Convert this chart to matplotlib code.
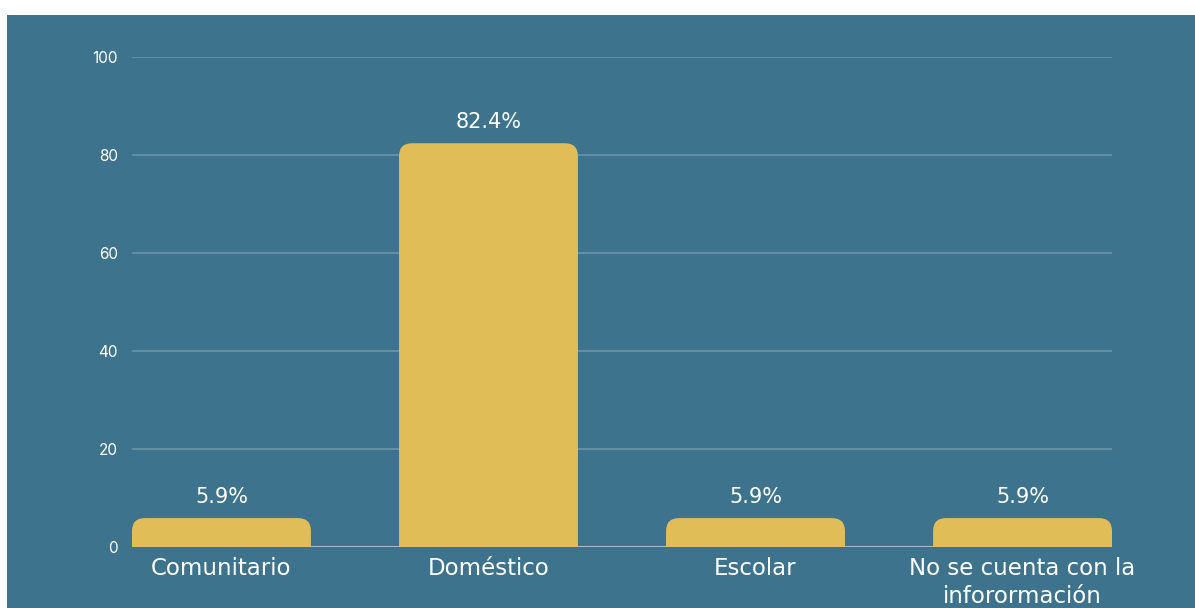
import matplotlib
matplotlib.use("Agg")
import matplotlib.pyplot as plt
from matplotlib.patches import Rectangle, PathPatch
from matplotlib.path import Path

categories = ["Comunitario", "Doméstico", "Escolar", "No se cuenta con la\ninforormación"]
values = [5.9, 82.4, 5.9, 5.9]
value_labels = ["5.9%", "82.4%", "5.9%", "5.9%"]
yticks = [0, 20, 40, 60, 80, 100]

BG = "#3d738c"
BAR = "#e1bd57"
GRID = "#6d95a8"
BASE = "#a3bac6"
TXT = "white"
FONT = ["DejaVu Sans"]
TICKFONT = ["Inter", "DejaVu Sans"]

W, H = 1195, 608
fig = plt.figure(figsize=(W / 100, H / 100), dpi=100)
fig.patch.set_facecolor("white")
fig.add_artist(Rectangle((7 / W, 0), 1 - 7 / W, (H - 15) / H, transform=fig.transFigure,
                         facecolor=BG, edgecolor="none", zorder=0))

ax = fig.add_axes([132 / W, 61 / H, (1112 - 132) / W, (547 - 57) / H])
ax.set_facecolor("none")
for s in ax.spines.values():
    s.set_visible(False)

x = list(range(len(categories)))
width = 0.67
bars = ax.bar(x, values, width=width, color="none", edgecolor="none")
ax.set_xlim(-width / 2, len(categories) - 1 + width / 2)
ax.set_ylim(0, 100)

# pixel->data scaling for rounded corners
r_px = 13
px_per_x = (1112 - 132) / (ax.get_xlim()[1] - ax.get_xlim()[0])
px_per_y = (547 - 57) / 100.0
rx = r_px / px_per_x
ry = r_px / px_per_y

for b in bars:
    x0 = b.get_x(); w = b.get_width(); h = b.get_height()
    x1 = x0 + w
    ryy = min(ry, h)
    verts = [(x0, 0), (x0, h - ryy), (x0, h), (x0 + rx, h), (x1 - rx, h), (x1, h), (x1, h - ryy),
             (x1, 0), (x0, 0)]
    codes = [Path.MOVETO, Path.LINETO, Path.CURVE3, Path.CURVE3, Path.LINETO, Path.CURVE3,
             Path.CURVE3, Path.LINETO, Path.CLOSEPOLY]
    ax.add_patch(PathPatch(Path(verts, codes), facecolor=BAR, edgecolor="none", zorder=3))

for xi, v, lab in zip(x, values, value_labels):
    ax.annotate(lab, (xi, v), xytext=(0, 21), textcoords="offset pixels", ha="center", va="center",
                color=TXT, fontsize=15, family=FONT)

ax.set_yticks(yticks)
ax.set_yticklabels([str(t) for t in yticks], color=TXT, fontsize=11, family=TICKFONT)
ax.tick_params(axis="y", length=0, pad=10)
for t in yticks[1:]:
    ax.axhline(t, color=GRID, lw=1.2, zorder=1)
ax.axhline(0, color=BASE, lw=1.5, zorder=2)

ax.set_xticks(x)
ax.set_xticklabels(categories, color=TXT, fontsize=16.5, family=FONT, linespacing=1.28)
ax.tick_params(axis="x", length=0, pad=7)

fig.savefig("out.png", dpi=100, facecolor=fig.get_facecolor())
